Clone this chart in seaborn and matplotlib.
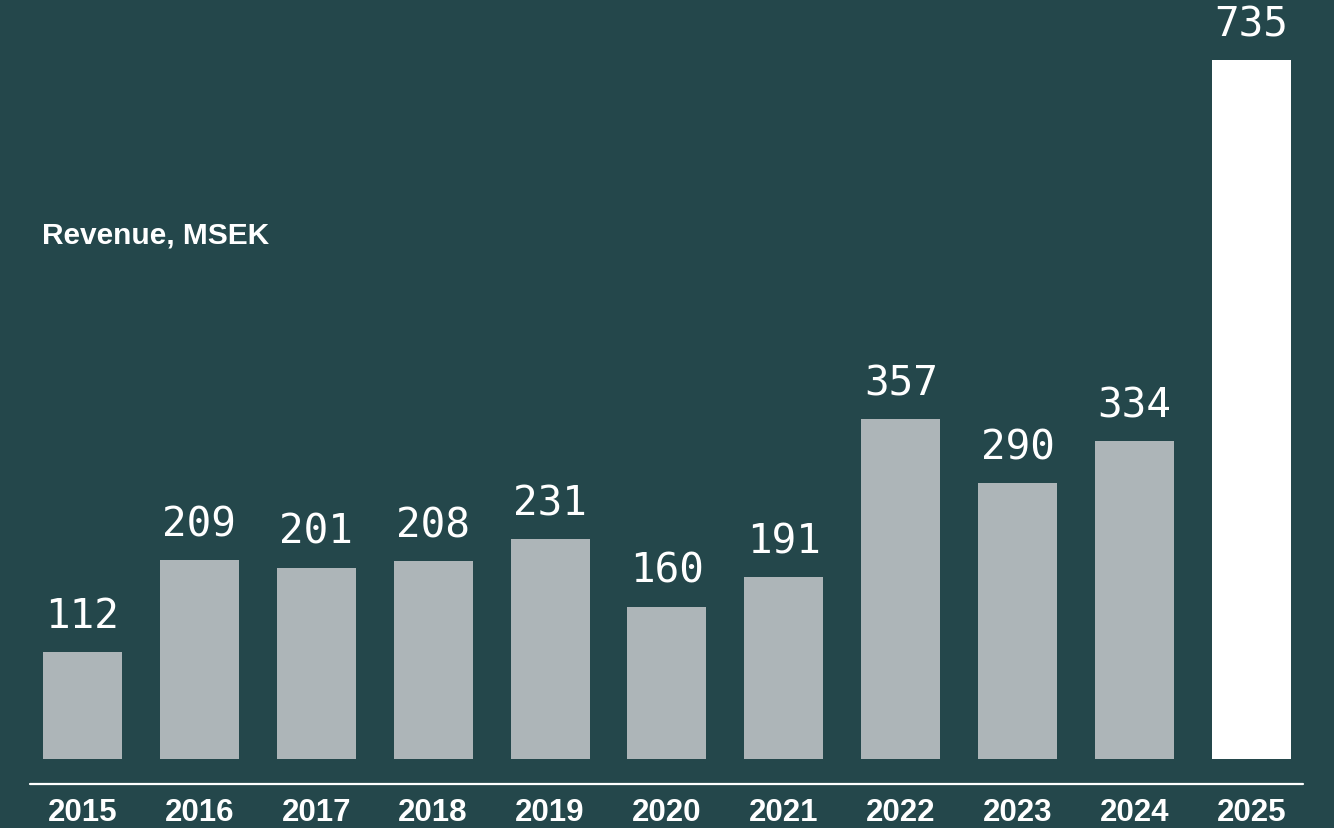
import matplotlib
matplotlib.use("Agg")
import matplotlib.pyplot as plt
import seaborn as sns
import pandas as pd

years = ["2015", "2016", "2017", "2018", "2019", "2020", "2021", "2022", "2023", "2024", "2025"]
revenue = [112, 209, 201, 208, 231, 160, 191, 357, 290, 334, 735]
title = "Revenue, MSEK"

BG = "#24474b"
GREY = "#adb5b8"
WHITE = "#ffffff"

sns.set_theme(style="white")
plt.rcParams["font.family"] = ["Liberation Sans", "DejaVu Sans"]

df = pd.DataFrame({"year": years, "revenue": revenue})
colors = [GREY] * (len(years) - 1) + [WHITE]

fig = plt.figure(figsize=(13.34, 8.29), dpi=100)
fig.patch.set_facecolor(BG)
ax = fig.add_axes([0, 0, 1, 1])
ax.set_facecolor(BG)

sns.barplot(data=df, x="year", y="revenue", hue="year", palette=colors,
            legend=False, width=0.676, saturation=1, ax=ax, linewidth=0)

ax.set_xlim(-0.7057, 10.706)
ax.set_ylim(-72.6, 799.2)
ax.set_axis_off()

for i, v in enumerate(revenue):
    ax.annotate(str(v), (i, v), xytext=(0, 25), textcoords="offset pixels",
                ha="center", va="baseline", color="white",
                fontsize=29.5, family="DejaVu Sans Mono")
    ax.text(i, -55.5, years[i], ha="center", va="center", color="white",
            fontsize=22.5, fontweight="bold")

ax.axhline(-26.3, xmin=30 / 1334, xmax=1303 / 1334, color="white", lw=1.6)

fig.text(42 / 1334, 1 - 236 / 829, title, ha="left", va="center",
         color="white", fontsize=21.5, fontweight="bold")

fig.savefig("out.png", dpi=100, facecolor=BG)
